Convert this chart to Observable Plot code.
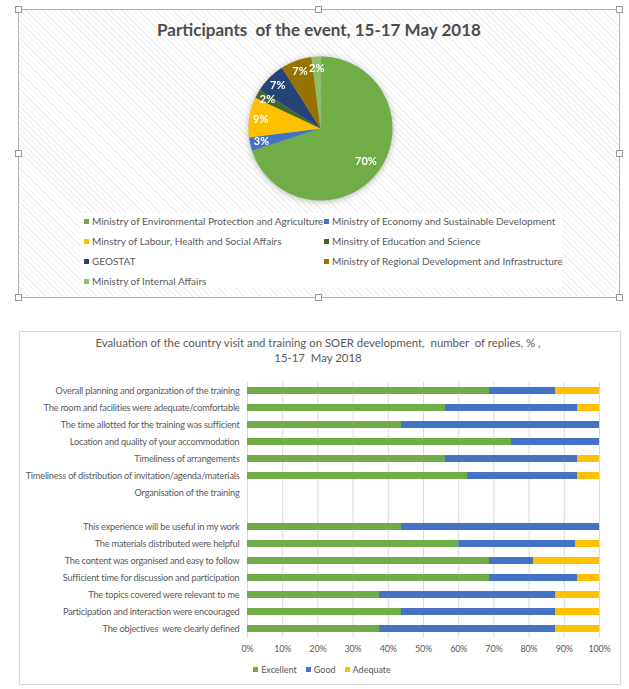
<!DOCTYPE html>
<html><head><meta charset="utf-8">
<script src="https://cdn.jsdelivr.net/npm/d3@7"></script>
<script src="https://cdn.jsdelivr.net/npm/@observablehq/plot@0.6"></script>
<style>
html,body{margin:0;padding:0;background:#fff}
body{width:629px;height:689px;position:relative;overflow:hidden;font-family:Lato,"Open Sans",sans-serif;color:#595959}
.abs{position:absolute}
#frame1{left:18px;top:9px;width:602px;height:289px;box-sizing:border-box;border:1px solid #b4b4b4;
  background:repeating-linear-gradient(45deg,#fefefe 0px,#fefefe 3px,#efefef 3px,#efefef 4px)}
.h{position:absolute;width:7px;height:7px;box-sizing:border-box;border:1px solid #999;background:#fff}
#title1{left:18px;top:19px;width:602px;text-align:center;font-weight:bold;font-size:17px;color:#4d4d4d;white-space:pre}
#leg1{left:80px;top:213px;width:482px;height:75px;background:#fff}
.li{position:absolute;font-size:10px;white-space:pre;line-height:12px}
.sw{display:inline-block;width:5px;height:5px;margin-right:3px;vertical-align:1px}
#pie{left:247.5px;top:56px;filter:drop-shadow(0 1px 3px rgba(0,0,0,0.28))}
#frame2{left:19px;top:331px;width:602px;height:354px;box-sizing:border-box;border:1px solid #d9d9d9}
#title2{left:19px;top:335px;width:598px;text-align:center;font-size:11.4px;line-height:15px;white-space:pre}
#bars{left:0;top:370px}
#leg2{left:0;top:664px;width:644px;font-size:9px;white-space:pre;display:flex;justify-content:center;gap:9px}
</style></head>
<body>
<div id="frame1" class="abs"></div>
<div id="title1" class="abs">Participants  of the event, 15-17 May 2018</div>
<div id="leg1" class="abs"></div>
<div id="pie" class="abs"></div>
<div id="frame2" class="abs"></div>
<div id="title2" class="abs">Evaluation of the country visit and training on SOER development,  number  of replies, % ,
15-17  May 2018</div>
<div id="bars" class="abs"></div>
<div id="leg2" class="abs"></div>
<script>
// ---------- Pie data ----------
const ministries = [
  "Ministry of Environmental Protection and Agriculture",
  "Ministry of Economy and Sustainable Development",
  "Minstry of Labour, Health and Social Affairs",
  "Minsitry of Education and Science",
  "GEOSTAT",
  "Ministry of Regional Development and Infrastructure",
  "Ministry of Internal Affairs"
];
const pieValues = [70, 3, 9, 2, 7, 7, 2];
const pieColors = ["#70AD47", "#4472C4", "#FFC000", "#43682B", "#264478", "#997300", "#8CC168"];

// ---------- Bar data ----------
const questions = [
  "Overall planning and organization of the training",
  "The room and facilities were adequate/comfortable",
  "The time allotted for the training was sufficient",
  "Location and quality of your accommodation",
  "Timeliness of arrangements",
  "Timeliness of distribution of invitation/agenda/materials",
  "Organisation of the training",
  " ",
  "This experience will be useful in my work",
  "The materials distributed were helpful",
  "The content was organised and easy to follow",
  "Sufficient time for discussion and participation",
  "The topics covered were relevant to me",
  "Participation and interaction were encouraged",
  "The objectives  were clearly defined"
];
const ratings = ["Excellent", "Good", "Adequate"];
const ratingColors = ["#70AD47", "#4472C4", "#FFC000"];
const excellent = [68.75, 56.25, 43.75, 75, 56.25, 62.5, null, null, 43.75, 60, 68.75, 68.75, 37.5, 43.75, 37.5];
const good      = [18.75, 37.5, 56.25, 25, 37.5, 31.25, null, null, 56.25, 33.33, 12.5, 25, 50, 43.75, 50];
const adequate  = [12.5, 6.25, 0, 0, 6.25, 6.25, null, null, 0, 6.67, 18.75, 6.25, 12.5, 12.5, 12.5];
const xTicks = [0, 10, 20, 30, 40, 50, 60, 70, 80, 90, 100];

// ---------- Frame handles ----------
[[0,0],[0.5,0],[1,0],[0,0.5],[1,0.5],[0,1],[0.5,1],[1,1]].forEach(([fx,fy]) => {
  const h = document.createElement("div");
  h.className = "h";
  h.style.left = (18 + fx * 601 - 3.5) + "px";
  h.style.top = (9 + fy * 288 - 3.5) + "px";
  document.body.appendChild(h);
});

// ---------- Pie ----------
const arcs = d3.pie().sort(null).value(d => d)(pieValues);
const features = arcs.map((a, i) => {
  const ring = [[0, 0]];
  const n = Math.max(2, Math.ceil((a.endAngle - a.startAngle) / 0.01));
  for (let k = 0; k <= n; k++) {
    const t = a.startAngle + (a.endAngle - a.startAngle) * k / n;
    ring.push([Math.sin(t), -Math.cos(t)]);
  }
  ring.push([0, 0]);
  return {type: "Feature", properties: {name: ministries[i]}, geometry: {type: "Polygon", coordinates: [ring]}};
});
const pieLabels = arcs.map((a, i) => {
  const m = (a.startAngle + a.endAngle) / 2;
  const r = pieValues[i] > 50 ? 0.78 : 0.84;
  return {lx: r * Math.sin(m), ly: -r * Math.cos(m), t: pieValues[i] + "%"};
});
const pie = Plot.plot({
  width: 144, height: 144, margin: 0,
  style: {background: "transparent", overflow: "visible"},
  projection: {type: "identity", domain: {type: "MultiPoint", coordinates: [[-1, -1], [1, 1]]}, inset: 0},
  color: {domain: ministries, range: pieColors},
  marks: [
    Plot.geo(features, {fill: d => d.properties.name}),
    Plot.text(pieLabels, {x: "lx", y: "ly", text: "t", fill: "white", fontWeight: "bold", fontSize: 11, fontFamily: "Lato, sans-serif"})
  ]
});
document.getElementById("pie").appendChild(pie);

// pie legend
const leg1 = document.getElementById("leg1");
ministries.forEach((m, i) => {
  const d = document.createElement("div");
  d.className = "li";
  d.style.left = (i % 2 === 0 ? 4 : 244) + "px";
  d.style.top = (2 + Math.floor(i / 2) * 20) + "px";
  d.innerHTML = `<span class="sw" style="background:${pieColors[i]}"></span>${m}`;
  leg1.appendChild(d);
});

// ---------- Bars ----------
const table = [];
questions.forEach((q, i) => {
  [excellent, good, adequate].forEach((arr, j) => {
    if (arr[i] != null) table.push({question: q, rating: ratings[j], value: arr[i]});
  });
});
const bars = Plot.plot({
  width: 629, height: 290,
  marginLeft: 247, marginRight: 30, marginTop: 11.5, marginBottom: 22.4,
  style: {background: "transparent", fontFamily: "Lato, sans-serif", fontSize: "9.2px", color: "#595959", letterSpacing: "-0.2px"},
  x: {domain: [0, 100]},
  y: {domain: questions, padding: 0},
  color: {domain: ratings, range: ratingColors},
  marks: [
    Plot.gridX(xTicks, {stroke: "#d9d9d9", strokeOpacity: 1}),
    Plot.barX(table, {x: "value", y: "question", fill: "rating", insetTop: 5, insetBottom: 5}),
    Plot.axisY({tickSize: 0, tickPadding: 8, fontSize: 9.2, label: null}),
    Plot.axisX({ticks: xTicks, tickFormat: d => d + "%", tickSize: 0, tickPadding: 8, fontSize: 9, label: null})
  ]
});
document.getElementById("bars").appendChild(bars);

// bar legend
document.getElementById("leg2").innerHTML =
  ratings.map((r, i) => `<span><span class="sw" style="background:${ratingColors[i]}"></span>${r}</span>`).join("");
</script>
</body></html>
